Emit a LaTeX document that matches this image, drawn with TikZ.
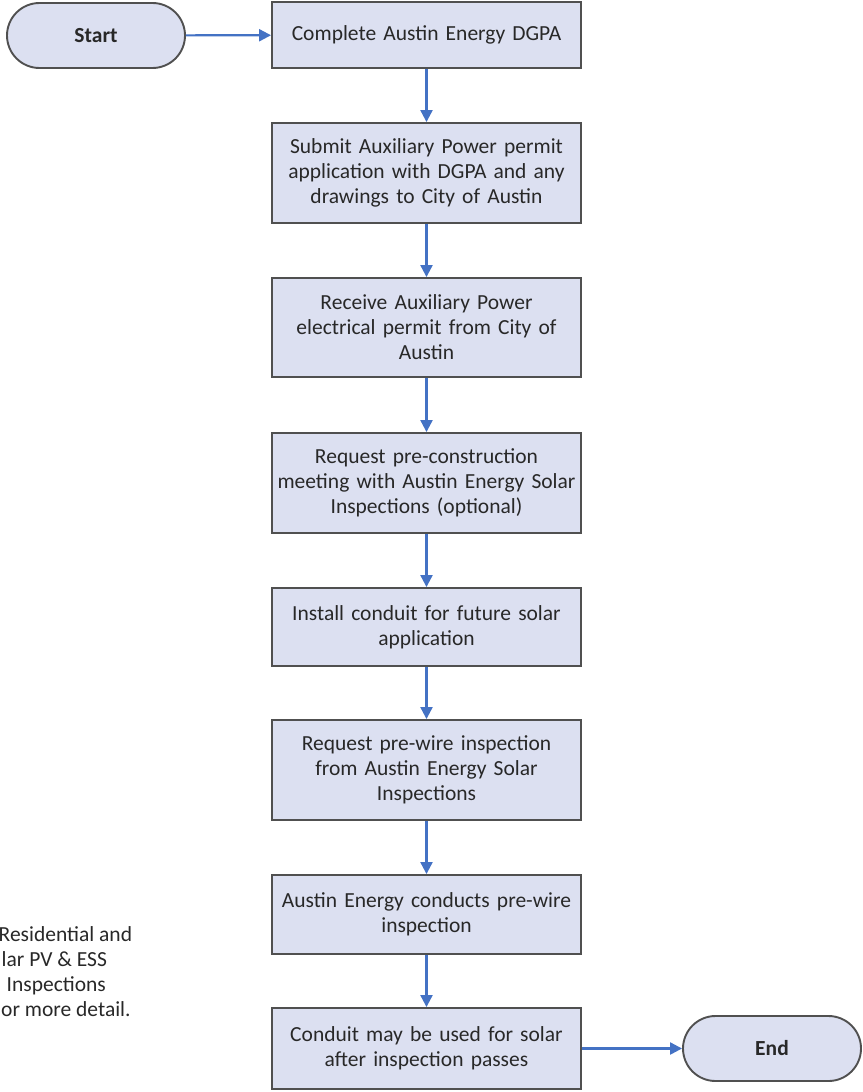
\documentclass[tikz,border=0pt]{standalone}
\usepackage{fontspec}
\setmainfont{Carlito}
\usetikzlibrary{shapes.misc,arrows.meta}
\definecolor{boxfill}{RGB}{220,224,241}
\definecolor{boxline}{RGB}{80,80,80}
\definecolor{arrowblue}{RGB}{68,114,196}
\definecolor{txt}{RGB}{40,40,40}
\begin{document}
\begin{tikzpicture}[x=1pt,y=-1pt,
  stepbox/.style={draw=boxline, line width=1.9pt, fill=boxfill, minimum width=309pt, text width=300pt, align=center, inner sep=0pt, font=\fontsize{21.5}{25}\selectfont, text=txt},
  term/.style={rounded rectangle, draw=boxline, line width=1.9pt, fill=boxfill, minimum width=178pt, minimum height=65pt, inner sep=0pt, font=\fontsize{21.5}{25}\selectfont\bfseries, text=txt},
  flow/.style={draw=arrowblue, line width=2.2pt, -{Triangle[length=12pt,width=12pt]}},
  note/.style={anchor=base west, align=left, inner sep=0pt, font=\fontsize{21.5}{25}\selectfont, text=txt}]
\useasboundingbox (0,0) rectangle (862,1092);
\node[term] (start) at (96,35.5) {Start};
\node[stepbox, minimum height=66pt] (b1) at (426.5,35) {Complete Austin Energy DGPA};
\node[stepbox, minimum height=100pt] (b2) at (426.5,173) {Submit Auxiliary Power permit\\application with DGPA and any\\drawings to City of Austin};
\node[stepbox, minimum height=99pt] (b3) at (426.5,327.5) {Receive Auxiliary Power\\electrical permit from City of\\Austin};
\node[stepbox, minimum height=100pt] (b4) at (426.5,483) {Request pre-construction\\meeting with Austin Energy Solar\\Inspections (optional)};
\node[stepbox, minimum height=78pt] (b5) at (426.5,627) {Install conduit for future solar\\application};
\node[stepbox, minimum height=100pt] (b6) at (426.5,770) {Request pre-wire inspection\\from Austin Energy Solar\\Inspections};
\node[stepbox, minimum height=79pt] (b7) at (426.5,914.5) {Austin Energy conducts pre-wire\\inspection};
\node[stepbox, minimum height=81pt] (b8) at (426.5,1048.5) {Conduit may be used for solar\\after inspection passes};
\node[term] (end) at (772,1048.5) {End};
\node[note] (n) at (-1.5,1016.7) {Residential and\\\hspace{3pt}lar PV \& ESS\\\hspace{8pt}Inspections\\\hspace{2.5pt}or more detail.};
\draw[flow] (start) -- (b1);
\draw[flow] (b1) -- (b2);
\draw[flow] (b2) -- (b3);
\draw[flow] (b3) -- (b4);
\draw[flow] (b4) -- (b5);
\draw[flow] (b5) -- (b6);
\draw[flow] (b6) -- (b7);
\draw[flow] (b7) -- (b8);
\draw[flow] (b8) -- (end);
\end{tikzpicture}
\end{document}
